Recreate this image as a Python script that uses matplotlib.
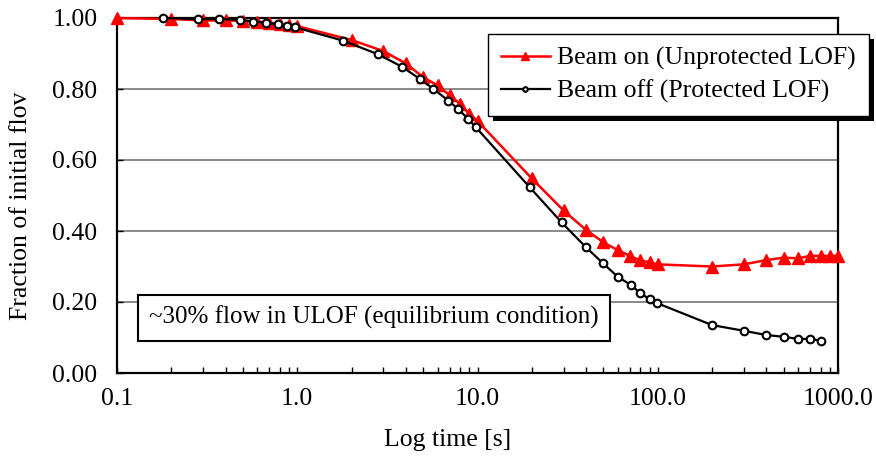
import matplotlib
matplotlib.use('Agg')
from matplotlib import pyplot as plt
from matplotlib.patches import Rectangle

# beam on (unprotected LOF)
t_on = [0.1, 0.2, 0.3, 0.4, 0.5, 0.6, 0.7, 0.8, 0.9, 1.0,
        2, 3, 4, 5, 6, 7, 8, 9, 10,
        20, 30, 40, 50, 60, 70, 80, 90, 100,
        200, 300, 400, 500, 600, 700, 800, 900, 1000]
f_on = [1.0, 0.997, 0.993, 0.993, 0.992, 0.99, 0.987, 0.983, 0.98, 0.977,
        0.938, 0.907, 0.872, 0.833, 0.81, 0.783, 0.758, 0.73, 0.71,
        0.548, 0.458, 0.403, 0.368, 0.346, 0.33, 0.317, 0.312, 0.306,
        0.30, 0.306, 0.318, 0.325, 0.323, 0.33, 0.33, 0.33, 0.33]

# beam off (protected LOF)
t_off = [0.18, 0.28, 0.37, 0.48, 0.57, 0.67, 0.78, 0.88, 0.97,
         1.8, 2.8, 3.8, 4.8, 5.7, 6.9, 7.8, 8.9, 9.8,
         19.5, 29.3, 40, 49.5, 60, 71, 80, 90, 99,
         200, 300, 400, 500, 600, 700, 800]
f_off = [1.0, 0.997, 0.997, 0.995, 0.99, 0.987, 0.982, 0.977, 0.974,
         0.936, 0.898, 0.863, 0.828, 0.80, 0.767, 0.744, 0.715, 0.692,
         0.523, 0.424, 0.354, 0.31, 0.271, 0.248, 0.225, 0.208, 0.197,
         0.135, 0.119, 0.107, 0.102, 0.096, 0.096, 0.091]

x_ticks = [0.1, 1, 10, 100, 1000]
x_labels = ['0.1', '1.0', '10.0', '100.0', '1000.0']
y_ticks = [0.0, 0.2, 0.4, 0.6, 0.8, 1.0]
y_labels = ['0.00', '0.20', '0.40', '0.60', '0.80', '1.00']

plt.rcParams['font.family'] = ['Liberation Serif', 'DejaVu Serif']
FS = 18.5

fig = plt.figure(figsize=(8.76, 4.57), dpi=100)
ax = fig.add_axes([117/876, 84/457, 721/876, 355/457])

for y in y_ticks[1:-1]:
    ax.axhline(y, color='#808080', lw=1.3, zorder=1)

ax.plot(t_on, f_on, '-^', color='red', lw=1.8, ms=9, clip_on=False, zorder=3,
        label='Beam on (Unprotected LOF)')
ax.plot(t_off, f_off, '-o', color='black', lw=1.6, ms=5.5, mfc='white', mew=1.5,
        clip_on=False, zorder=4, label='Beam off (Protected LOF)')

ax.set_xscale('log')
ax.set_xlim(0.1, 1000)
ax.set_ylim(0, 1)
ax.set_xticks(x_ticks)
ax.set_xticklabels(x_labels, fontsize=FS)
ax.set_yticks(y_ticks)
ax.set_yticklabels(y_labels, fontsize=FS)
ax.tick_params(axis='both', which='both', direction='in', length=4, width=1)
ax.tick_params(axis='x', which='minor', length=4)
ax.tick_params(axis='x', pad=11)
ax.tick_params(axis='y', pad=14)
ax.xaxis.set_minor_formatter(plt.NullFormatter())
for s in ax.spines.values():
    s.set_linewidth(1.6)

ax.set_xlabel('Log time [s]', fontsize=FS)
ax.xaxis.set_label_coords(0.458, -0.158)
ax.set_ylabel('Fraction of initial flov', fontsize=FS)
ax.yaxis.set_label_coords(-0.118, 0.47)

ax.text(0.356, 0.156, '~30% flow in ULOF (equilibrium condition)', transform=ax.transAxes,
        fontsize=18, ha='center', va='center', zorder=6,
        bbox=dict(boxstyle='square,pad=0.45', fc='white', ec='black', lw=1.5))

leg = ax.legend(loc='upper left', bbox_to_anchor=(488/876, (457-34)/457),
                bbox_transform=fig.transFigure, fontsize=FS, frameon=True,
                fancybox=False, edgecolor='black', framealpha=1,
                handlelength=1.9, handletextpad=0.3, borderpad=0.5,
                labelspacing=0.38, borderaxespad=0, markerscale=0.6)
leg.get_frame().set_linewidth(1.0)
leg.set_zorder(6)

# black drop shadow behind the legend
fig.canvas.draw()
bb = leg.get_window_extent()
shadow = Rectangle((bb.x0 + 5, bb.y0 - 5), bb.width, bb.height, transform=None,
                   facecolor='black', edgecolor='none', zorder=5.5, clip_on=False)
ax.add_artist(shadow)

fig.savefig('out.png', dpi=100)
